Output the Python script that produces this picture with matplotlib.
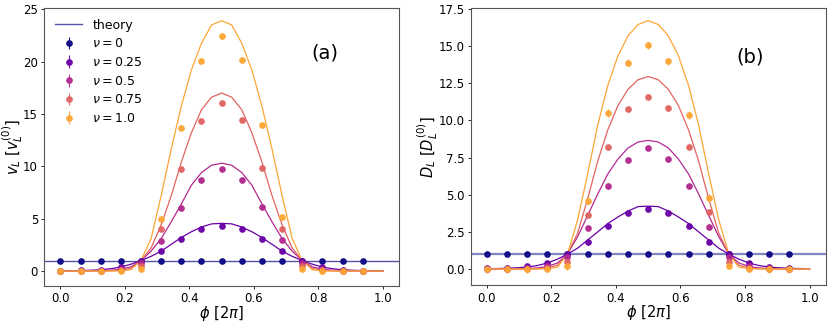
import numpy as np
import matplotlib
matplotlib.use("Agg")
import matplotlib.pyplot as plt

# measured points at phi = k/16
phi_data = np.arange(16) / 16
# theory curves sampled at phi = k/32
phi_theory = np.arange(33) / 32

nu_values = [0, 0.25, 0.5, 0.75, 1.0]
nu_labels = [r"$\nu = 0$", r"$\nu = 0.25$", r"$\nu = 0.5$", r"$\nu = 0.75$", r"$\nu = 1.0$"]

# panel (a): velocity
v_data = [
    [1.0] * 16,
    [0.03, 0.05, 0.1, 0.38, 1.0, 1.93, 3.07, 4.0, 4.33, 4.0, 3.1, 1.93, 1.0, 0.38, 0.1, 0.03],
    [0.0, 0.02, 0.04, 0.15, 0.75, 2.9, 6.06, 8.65, 9.7, 8.7, 6.1, 2.96, 0.75, 0.15, 0.04, 0.0],
    [0.0, 0.0, 0.02, 0.05, 0.5, 4.0, 9.7, 14.3, 16.0, 14.4, 9.8, 4.0, 0.5, 0.05, 0.02, 0.0],
    [0.0, 0.0, 0.0, 0.02, 0.2, 5.0, 13.7, 20.1, 22.4, 20.2, 13.9, 5.2, 0.2, 0.02, 0.0, 0.0],
]
v_err = [0.02, 0.08, 0.12, 0.15, 0.2]
v_theory = [
    [0.01, 0.02, 0.04, 0.07, 0.12, 0.22, 0.38, 0.65, 1.0, 1.4, 1.9, 2.55, 3.2, 3.75, 4.2, 4.5, 4.55,
     4.5, 4.2, 3.75, 3.2, 2.55, 1.9, 1.4, 1.0, 0.65, 0.38, 0.22, 0.12, 0.07, 0.04, 0.02, 0.01],
    [0.0, 0.0, 0.01, 0.01, 0.03, 0.07, 0.17, 0.4, 1.0, 1.9, 3.1, 4.7, 6.4, 8.2, 9.4, 10.1, 10.3,
     10.1, 9.4, 8.2, 6.4, 4.7, 3.1, 1.9, 1.0, 0.4, 0.17, 0.07, 0.03, 0.01, 0.01, 0.0, 0.0],
    [0.0, 0.0, 0.0, 0.0, 0.0, 0.02, 0.06, 0.25, 1.0, 2.2, 4.4, 7.2, 10.4, 13.2, 15.4, 16.6, 17.0,
     16.6, 15.4, 13.2, 10.4, 7.2, 4.4, 2.2, 1.0, 0.25, 0.06, 0.02, 0.0, 0.0, 0.0, 0.0, 0.0],
    [0.0, 0.0, 0.0, 0.0, 0.0, 0.0, 0.02, 0.12, 1.0, 3.1, 7.2, 11.65, 15.75, 19.2, 21.75, 23.5, 23.9,
     23.5, 21.75, 19.2, 15.75, 11.65, 7.2, 3.1, 1.0, 0.12, 0.02, 0.0, 0.0, 0.0, 0.0, 0.0, 0.0],
]

# panel (b): diffusion
D_data = [
    [1.0] * 16,
    [0.05, 0.07, 0.17, 0.4, 1.0, 1.8, 2.88, 3.74, 4.03, 3.76, 2.9, 1.84, 1.0, 0.4, 0.15, 0.05],
    [0.02, 0.03, 0.06, 0.18, 0.8, 2.77, 5.56, 7.35, 8.12, 7.42, 5.56, 2.83, 0.8, 0.18, 0.05, 0.02],
    [0.0, 0.0, 0.02, 0.05, 0.5, 3.65, 8.2, 10.75, 11.58, 10.82, 8.24, 3.86, 0.5, 0.05, 0.02, 0.0],
    [0.0, 0.0, 0.0, 0.02, 0.2, 4.58, 10.5, 13.9, 15.05, 13.98, 10.38, 4.78, 0.22, 0.02, 0.0, 0.0],
]
D_err = [0.02, 0.08, 0.12, 0.15, 0.25]
D_theory = [
    [0.02, 0.03, 0.05, 0.08, 0.13, 0.23, 0.4, 0.66, 1.0, 1.4, 1.95, 2.5, 3.06, 3.5, 3.9, 4.2, 4.23,
     4.2, 3.9, 3.5, 3.06, 2.5, 1.95, 1.4, 1.0, 0.66, 0.4, 0.23, 0.13, 0.08, 0.05, 0.03, 0.02],
    [0.0, 0.0, 0.01, 0.01, 0.03, 0.07, 0.17, 0.4, 1.0, 2.17, 3.6, 5.05, 6.4, 7.4, 8.15, 8.55, 8.66,
     8.55, 8.15, 7.4, 6.4, 5.05, 3.6, 2.17, 1.0, 0.4, 0.17, 0.07, 0.03, 0.01, 0.01, 0.0, 0.0],
    [0.0, 0.0, 0.0, 0.0, 0.0, 0.02, 0.06, 0.25, 1.0, 2.4, 4.72, 7.27, 9.37, 11.0, 12.1, 12.74, 12.96,
     12.74, 12.1, 11.0, 9.37, 7.27, 4.72, 2.4, 1.0, 0.25, 0.06, 0.02, 0.0, 0.0, 0.0, 0.0, 0.0],
    [0.0, 0.0, 0.0, 0.0, 0.0, 0.0, 0.02, 0.12, 1.0, 3.3, 6.4, 9.7, 12.36, 14.35, 15.7, 16.46, 16.72,
     16.46, 15.7, 14.35, 12.36, 9.7, 6.4, 3.3, 1.0, 0.12, 0.02, 0.0, 0.0, 0.0, 0.0, 0.0, 0.0],
]

colors = plt.cm.plasma(np.linspace(0, 0.8, 5))

fig = plt.figure(figsize=(8.31, 3.22), dpi=100)
ax_a = fig.add_axes([0.0533, 0.1127, 0.4268, 0.862])
ax_b = fig.add_axes([0.5664, 0.1140, 0.4272, 0.861])


def draw_panel(ax, data, err, theory, hline_lw, hline_alpha):
    # nu = 0 theory is flat at 1
    ax.axhline(1.0, color=colors[0], lw=hline_lw, alpha=hline_alpha, label="theory")
    for i in range(5):
        ax.errorbar(phi_data, data[i], yerr=err[i], fmt="o", ms=3.8, color=colors[i],
                    elinewidth=0.8, capsize=0, alpha=0.95, label=nu_labels[i])
        if i > 0:
            ax.plot(phi_theory, theory[i - 1], color=colors[i], lw=0.9)
    ax.set_xlim(-0.05, 1.05)
    ax.set_xticks([0.0, 0.2, 0.4, 0.6, 0.8, 1.0])
    ax.tick_params(labelsize=8.5, length=2.5, width=0.6, pad=2)
    for sp in ax.spines.values():
        sp.set_color("#555555")
        sp.set_linewidth(0.8)
    ax.set_xlabel(r"$\phi\ [2\pi]$", fontsize=10.5, labelpad=-1)


draw_panel(ax_a, v_data, v_err, v_theory, 1.0, 0.7)
draw_panel(ax_b, D_data, D_err, D_theory, 1.6, 0.5)

ax_a.set_yticks([0, 5, 10, 15, 20, 25])
ax_a.set_ylabel(r"$v_L\ [v_L^{(0)}]$", fontsize=10.5, labelpad=-1)
ax_a.text(0.79, 0.84, "(a)", transform=ax_a.transAxes, fontsize=14, ha="center", va="center")
ax_a.legend(loc="upper left", frameon=False, fontsize=9, handlelength=2.2,
            borderaxespad=0.45, labelspacing=0.45)

ax_b.set_yticks(np.arange(0, 17.6, 2.5))
ax_b.set_ylabel(r"$D_L\ [D_L^{(0)}]$", fontsize=10.5, labelpad=-1)
ax_b.text(0.787, 0.824, "(b)", transform=ax_b.transAxes, fontsize=14, ha="center", va="center")

fig.savefig("out.png", dpi=100)
